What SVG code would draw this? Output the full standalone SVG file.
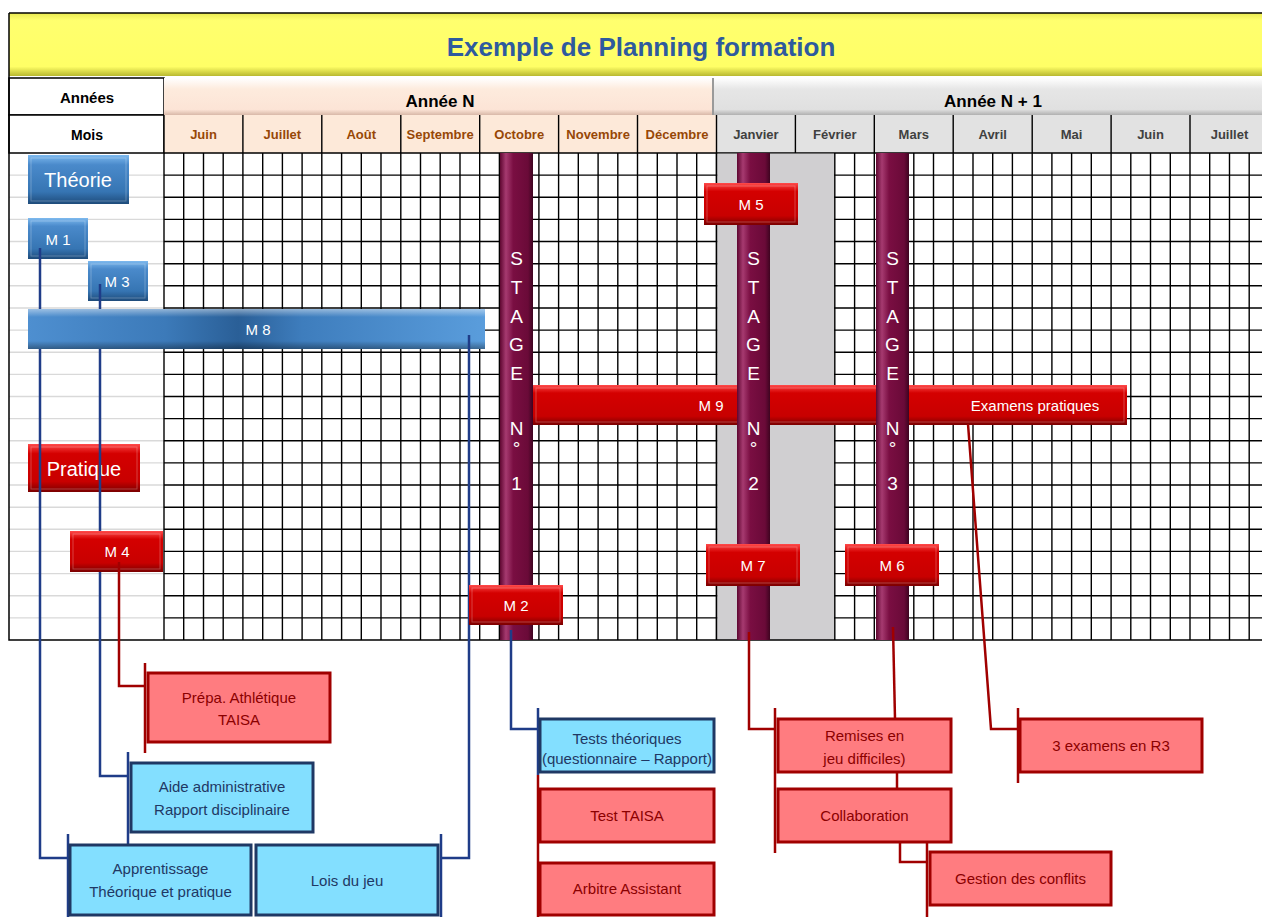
<svg xmlns="http://www.w3.org/2000/svg" width="1262" height="917" viewBox="0 0 1262 917">
<defs>
<linearGradient id="gYellow" x1="0" y1="0" x2="0" y2="1">
<stop offset="0" stop-color="#E8E850"/><stop offset="0.12" stop-color="#FFFF6E"/><stop offset="0.85" stop-color="#FFFF66"/><stop offset="1" stop-color="#B8B830"/>
</linearGradient>
<linearGradient id="gPeach" x1="0" y1="0" x2="0" y2="1">
<stop offset="0" stop-color="#FFFFFF"/><stop offset="0.3" stop-color="#FDEBDD"/><stop offset="0.85" stop-color="#FCE4D6"/><stop offset="1" stop-color="#D8B8A8"/>
</linearGradient>
<linearGradient id="gGrey" x1="0" y1="0" x2="0" y2="1">
<stop offset="0" stop-color="#FFFFFF"/><stop offset="0.3" stop-color="#E6E6E6"/><stop offset="0.85" stop-color="#E0E0E0"/><stop offset="1" stop-color="#B0B0B0"/>
</linearGradient>
<linearGradient id="gBlue" x1="0" y1="0" x2="0" y2="1">
<stop offset="0" stop-color="#7DB9EE"/><stop offset="0.2" stop-color="#4A8ACB"/><stop offset="0.75" stop-color="#3675B3"/><stop offset="1" stop-color="#1E4B7A"/>
</linearGradient>
<linearGradient id="gBlueH" x1="0" y1="0" x2="1" y2="0">
<stop offset="0" stop-color="#4E8FD0"/><stop offset="0.3" stop-color="#3C7AB9"/><stop offset="0.46" stop-color="#2A5F97"/><stop offset="0.6" stop-color="#3E7DBD"/><stop offset="1" stop-color="#5A9DDC"/>
</linearGradient>
<linearGradient id="gBlueV" x1="0" y1="0" x2="0" y2="1">
<stop offset="0" stop-color="#FFFFFF" stop-opacity="0.45"/><stop offset="0.2" stop-color="#FFFFFF" stop-opacity="0"/><stop offset="0.8" stop-color="#000000" stop-opacity="0"/><stop offset="1" stop-color="#000000" stop-opacity="0.35"/>
</linearGradient>
<linearGradient id="gRed" x1="0" y1="0" x2="0" y2="1">
<stop offset="0" stop-color="#FF4A4A"/><stop offset="0.2" stop-color="#D40000"/><stop offset="0.78" stop-color="#C80000"/><stop offset="1" stop-color="#7A0000"/>
</linearGradient>
<linearGradient id="gStage" x1="0" y1="0" x2="1" y2="0">
<stop offset="0" stop-color="#5E0630"/><stop offset="0.18" stop-color="#A63A70"/><stop offset="0.4" stop-color="#7A0E42"/><stop offset="0.85" stop-color="#6A0A38"/><stop offset="1" stop-color="#3E0420"/>
</linearGradient>
<style>
.grid{stroke:#000;stroke-width:1.4;fill:none}
.lite{stroke:#D9D9D9;stroke-width:1.4;fill:none}
.hdr{font-family:"Liberation Sans",Arial,sans-serif;font-weight:bold;text-anchor:middle}
.mN{font-family:"Liberation Sans",Arial,sans-serif;font-weight:bold;font-size:13px;fill:#974706;text-anchor:middle}
.mN1{font-family:"Liberation Sans",Arial,sans-serif;font-weight:bold;font-size:13px;fill:#404040;text-anchor:middle}
.bev{fill:#fff;font-family:"Liberation Sans",Arial,sans-serif;font-size:15px;text-anchor:middle}
.big{font-size:20px}
.hl{fill:none;stroke:#fff;stroke-opacity:0.25;stroke-width:1}
.stg{fill:#fff;font-family:"Liberation Sans",Arial,sans-serif;font-size:19px;text-anchor:middle}
.boxR{fill:#FF7C80;stroke:#A00000;stroke-width:3}
.boxB{fill:#83DFFF;stroke:#1F3864;stroke-width:3}
.tR{fill:#8B0000;font-family:"Liberation Sans",Arial,sans-serif;font-size:15px;text-anchor:middle}
.tB{fill:#1F3864;font-family:"Liberation Sans",Arial,sans-serif;font-size:15px;text-anchor:middle}
.cB{stroke:#1F3C88;stroke-width:2.5;fill:none}
.cR{stroke:#A00000;stroke-width:2.5;fill:none}
</style>
</defs>
<rect x="0" y="0" width="1262" height="917" fill="#fff"/>

<g id="title">
<rect x="9" y="13" width="1253" height="63" fill="url(#gYellow)"/>
<line x1="9" y1="13" x2="1262" y2="13" stroke="#000" stroke-width="1.5"/>
<line x1="9" y1="13" x2="9" y2="78" stroke="#000" stroke-width="1.5"/>
<text x="641" y="56" class="hdr" font-size="26" fill="#2E5A9E">Exemple de Planning formation</text>
</g>

<g id="header">
<rect x="9" y="78" width="155" height="37" fill="#fff" stroke="#000" stroke-width="1.5"/>
<rect x="9" y="115" width="155" height="38" fill="#fff" stroke="#000" stroke-width="1.5"/>
<text x="87" y="103" class="hdr" font-size="15" fill="#000">Années</text>
<text x="87" y="140" class="hdr" font-size="14" fill="#000">Mois</text>
<rect x="164" y="78" width="549" height="37" fill="url(#gPeach)"/>
<rect x="713" y="78" width="549" height="37" fill="url(#gGrey)"/>
<line x1="713" y1="78" x2="713" y2="115" stroke="#9A9A9A" stroke-width="2"/>
<text x="440" y="107" class="hdr" font-size="17" fill="#000">Année N</text>
<text x="993" y="107" class="hdr" font-size="17" fill="#000">Année N + 1</text>
<rect x="164" y="115" width="552" height="38" fill="#FDE9D9"/>
<rect x="716" y="115" width="546" height="38" fill="#E2E2E2"/>
<path class="grid" d="M164 115V153M242.9 115V153M321.8 115V153M400.8 115V153M479.7 115V153M558.6 115V153M637.5 115V153M716.5 115V153M795.4 115V153M874.3 115V153M953.2 115V153M1032.2 115V153M1111.1 115V153M1190 115V153M164 153H1262"/>
<text x="203.5" y="139" class="mN">Juin</text>
<text x="282.4" y="139" class="mN">Juillet</text>
<text x="361.3" y="139" class="mN">Août</text>
<text x="440.2" y="139" class="mN">Septembre</text>
<text x="519.2" y="139" class="mN">Octobre</text>
<text x="598.1" y="139" class="mN">Novembre</text>
<text x="677" y="139" class="mN">Décembre</text>
<text x="755.9" y="139" class="mN1">Janvier</text>
<text x="834.8" y="139" class="mN1">Février</text>
<text x="913.8" y="139" class="mN1">Mars</text>
<text x="992.7" y="139" class="mN1">Avril</text>
<text x="1071.6" y="139" class="mN1">Mai</text>
<text x="1150.5" y="139" class="mN1">Juin</text>
<text x="1229.5" y="139" class="mN1">Juillet</text>
</g>

<g id="grid">
<path class="lite" d="M9 175.1H164M9 197.3H164M9 219.4H164M9 241.5H164M9 263.7H164M9 285.8H164M9 308H164M9 330.1H164M9 352.2H164M9 374.4H164M9 396.5H164M9 418.6H164M9 440.8H164M9 462.9H164M9 485H164M9 507.2H164M9 529.3H164M9 551.4H164M9 573.6H164M9 595.7H164M9 617.9H164"/>
<path class="grid" d="M164 153V640M183.7 153V640M203.5 153V640M223.2 153V640M242.9 153V640M262.7 153V640M282.4 153V640M302.1 153V640M321.8 153V640M341.6 153V640M361.3 153V640M381 153V640M400.8 153V640M420.5 153V640M440.2 153V640M460 153V640M479.7 153V640M499.4 153V640M519.2 153V640M538.9 153V640M558.6 153V640M578.3 153V640M598.1 153V640M617.8 153V640M637.5 153V640M657.3 153V640M677 153V640M696.7 153V640M716.5 153V640M854.6 153V640M874.3 153V640M894 153V640M913.8 153V640M933.5 153V640M953.2 153V640M973 153V640M992.7 153V640M1012.4 153V640M1032.2 153V640M1051.9 153V640M1071.6 153V640M1091.3 153V640M1111.1 153V640M1130.8 153V640M1150.5 153V640M1170.3 153V640M1190 153V640M1209.7 153V640M1229.5 153V640M1249.2 153V640"/>
<path class="grid" d="M164 175.1H1262M164 197.3H1262M164 219.4H1262M164 241.5H1262M164 263.7H1262M164 285.8H1262M164 308H1262M164 330.1H1262M164 352.2H1262M164 374.4H1262M164 396.5H1262M164 418.6H1262M164 440.8H1262M164 462.9H1262M164 485H1262M164 507.2H1262M164 529.3H1262M164 551.4H1262M164 573.6H1262M164 595.7H1262M164 617.9H1262"/>
<rect x="717.2" y="153.7" width="117" height="486" fill="#D0CFD1"/>
<path class="grid" d="M716.5 153V640M834.8 153V640"/>
<path d="M9 78V640H1262" stroke="#000" stroke-width="1.5" fill="none"/>
</g>

<g id="M9">
<rect x="533" y="385" width="594" height="40" fill="url(#gRed)"/>
<rect class="hl" x="536" y="388" width="588" height="34"/>
<text x="711" y="411" class="bev">M 9</text>
<text x="1035" y="411" class="bev">Examens pratiques</text>
</g>

<g id="stage1">
<rect x="500" y="153" width="33" height="487" fill="url(#gStage)"/>
<text x="516.5" y="265" class="stg">S</text><text x="516.5" y="294" class="stg">T</text><text x="516.5" y="323" class="stg">A</text><text x="516.5" y="351" class="stg">G</text><text x="516.5" y="380" class="stg">E</text>
<text x="516.5" y="435" class="stg" font-size="16">N</text><text x="516.5" y="455" class="stg" font-size="16">°</text><text x="516.5" y="490" class="stg">1</text>
</g>
<g id="stage2">
<rect x="737" y="153" width="33" height="487" fill="url(#gStage)"/>
<text x="753.5" y="265" class="stg">S</text><text x="753.5" y="294" class="stg">T</text><text x="753.5" y="323" class="stg">A</text><text x="753.5" y="351" class="stg">G</text><text x="753.5" y="380" class="stg">E</text>
<text x="753.5" y="435" class="stg" font-size="16">N</text><text x="753.5" y="455" class="stg" font-size="16">°</text><text x="753.5" y="490" class="stg">2</text>
</g>
<g id="stage3">
<rect x="876" y="153" width="33" height="487" fill="url(#gStage)"/>
<text x="892.5" y="265" class="stg">S</text><text x="892.5" y="294" class="stg">T</text><text x="892.5" y="323" class="stg">A</text><text x="892.5" y="351" class="stg">G</text><text x="892.5" y="380" class="stg">E</text>
<text x="892.5" y="435" class="stg" font-size="16">N</text><text x="892.5" y="455" class="stg" font-size="16">°</text><text x="892.5" y="490" class="stg">3</text>
</g>

<g id="connectors">
<polyline class="cB" points="40,248 40,858 68,858"/>
<line class="cB" x1="68" y1="834" x2="68" y2="917"/>
<polyline class="cB" points="100,284 100,776 128,776"/>
<line class="cB" x1="128" y1="752" x2="128" y2="845"/>
<polyline class="cB" points="469,335 469,858 441,858"/>
<line class="cB" x1="441" y1="834" x2="441" y2="917"/>
<polyline class="cR" points="119,562 119,686 145,686"/>
<line class="cR" x1="145" y1="663" x2="145" y2="753"/>
<polyline class="cB" points="511,630 511,729 537,729"/>
<line class="cB" x1="538" y1="708" x2="538" y2="775"/>
<line class="cR" x1="538" y1="775" x2="538" y2="917"/>
<polyline class="cR" points="749,632 749,729 775,729"/>
<line class="cR" x1="775" y1="708" x2="775" y2="853"/>
<polyline class="cR" points="893,627 895,719"/>
<line class="cR" x1="897" y1="772" x2="897" y2="789"/>
<polyline class="cR" points="900,842 900,862 927,862"/>
<line class="cR" x1="927" y1="842" x2="927" y2="917"/>
<polyline class="cR" points="968,424 991,729 1018,729"/>
<line class="cR" x1="1018" y1="708" x2="1018" y2="783"/>
</g>

<g id="theorie"><rect x="28" y="155" width="101" height="49" fill="url(#gBlue)"/><rect class="hl" x="31" y="158" width="95" height="43"/><text x="78" y="187" class="bev big">Théorie</text></g>
<g id="M1"><rect x="28" y="218" width="60" height="41" fill="url(#gBlue)"/><rect class="hl" x="31" y="221" width="54" height="35"/><text x="58" y="245" class="bev">M 1</text></g>
<g id="M3"><rect x="88" y="261" width="60" height="40" fill="url(#gBlue)"/><rect class="hl" x="91" y="264" width="54" height="34"/><text x="117" y="287" class="bev">M 3</text></g>
<g id="M8"><rect x="28" y="309" width="457" height="40" fill="url(#gBlueH)"/><rect x="28" y="309" width="457" height="40" fill="url(#gBlueV)"/><text x="258" y="335" class="bev">M 8</text></g>
<line class="cB" x1="40" y1="248" x2="40" y2="259"/>
<line class="cB" x1="100" y1="284" x2="100" y2="301"/>
<line class="cB" x1="469" y1="335" x2="469" y2="349"/>

<g id="pratique"><rect x="28" y="444" width="112" height="48" fill="url(#gRed)"/><rect class="hl" x="31" y="447" width="106" height="42"/><text x="84" y="476" class="bev big">Pratique</text></g>
<line class="cB" x1="40" y1="444" x2="40" y2="492"/>
<line class="cB" x1="100" y1="444" x2="100" y2="492"/>
<g id="M4"><rect x="70" y="531" width="93" height="41" fill="url(#gRed)"/><rect class="hl" x="73" y="534" width="87" height="35"/><text x="117" y="557" class="bev">M 4</text></g>
<line class="cR" x1="119" y1="562" x2="119" y2="572"/>
<g id="M2"><rect x="469" y="585" width="94" height="40" fill="url(#gRed)"/><rect class="hl" x="472" y="588" width="88" height="34"/><text x="516" y="611" class="bev">M 2</text></g>
<g id="M5"><rect x="704" y="183" width="94" height="42" fill="url(#gRed)"/><rect class="hl" x="707" y="186" width="88" height="36"/><text x="751" y="210" class="bev">M 5</text></g>
<g id="M7"><rect x="706" y="544" width="94" height="42" fill="url(#gRed)"/><rect class="hl" x="709" y="547" width="88" height="36"/><text x="753" y="571" class="bev">M 7</text></g>
<g id="M6"><rect x="845" y="544" width="94" height="42" fill="url(#gRed)"/><rect class="hl" x="848" y="547" width="88" height="36"/><text x="892" y="571" class="bev">M 6</text></g>

<g id="prepa"><rect class="boxR" x="148" y="673" width="182" height="69"/><text x="239" y="703" class="tR">Prépa. Athlétique</text><text x="239" y="725" class="tR">TAISA</text></g>
<g id="aide"><rect class="boxB" x="131" y="763" width="182" height="69"/><text x="222" y="792" class="tB">Aide administrative</text><text x="222" y="815" class="tB">Rapport disciplinaire</text></g>
<g id="apprentissage"><rect class="boxB" x="70" y="845" width="181" height="70"/><text x="160.5" y="874" class="tB">Apprentissage</text><text x="160.5" y="897" class="tB">Théorique et pratique</text></g>
<g id="lois"><rect class="boxB" x="256" y="845" width="182" height="70"/><text x="347" y="886" class="tB">Lois du jeu</text></g>
<g id="tests"><rect class="boxB" x="540" y="719" width="174" height="53"/><text x="627" y="744" class="tB">Tests théoriques</text><text x="627" y="764" class="tB" font-size="11">(questionnaire – Rapport)</text></g>
<g id="testtaisa"><rect class="boxR" x="540" y="789" width="174" height="53"/><text x="627" y="821" class="tR">Test TAISA</text></g>
<g id="arbitre"><rect class="boxR" x="540" y="863" width="174" height="52"/><text x="627" y="894" class="tR">Arbitre Assistant</text></g>
<g id="remises"><rect class="boxR" x="778" y="719" width="173" height="53"/><text x="864.5" y="741" class="tR">Remises en</text><text x="864.5" y="764" class="tR">jeu difficiles)</text></g>
<g id="collab"><rect class="boxR" x="778" y="789" width="173" height="53"/><text x="864.5" y="821" class="tR">Collaboration</text></g>
<g id="gestion"><rect class="boxR" x="930" y="852" width="181" height="53"/><text x="1020.5" y="884" class="tR">Gestion des conflits</text></g>
<g id="examens3"><rect class="boxR" x="1020" y="719" width="182" height="53"/><text x="1111" y="751" class="tR">3 examens en R3</text></g>
</svg>
